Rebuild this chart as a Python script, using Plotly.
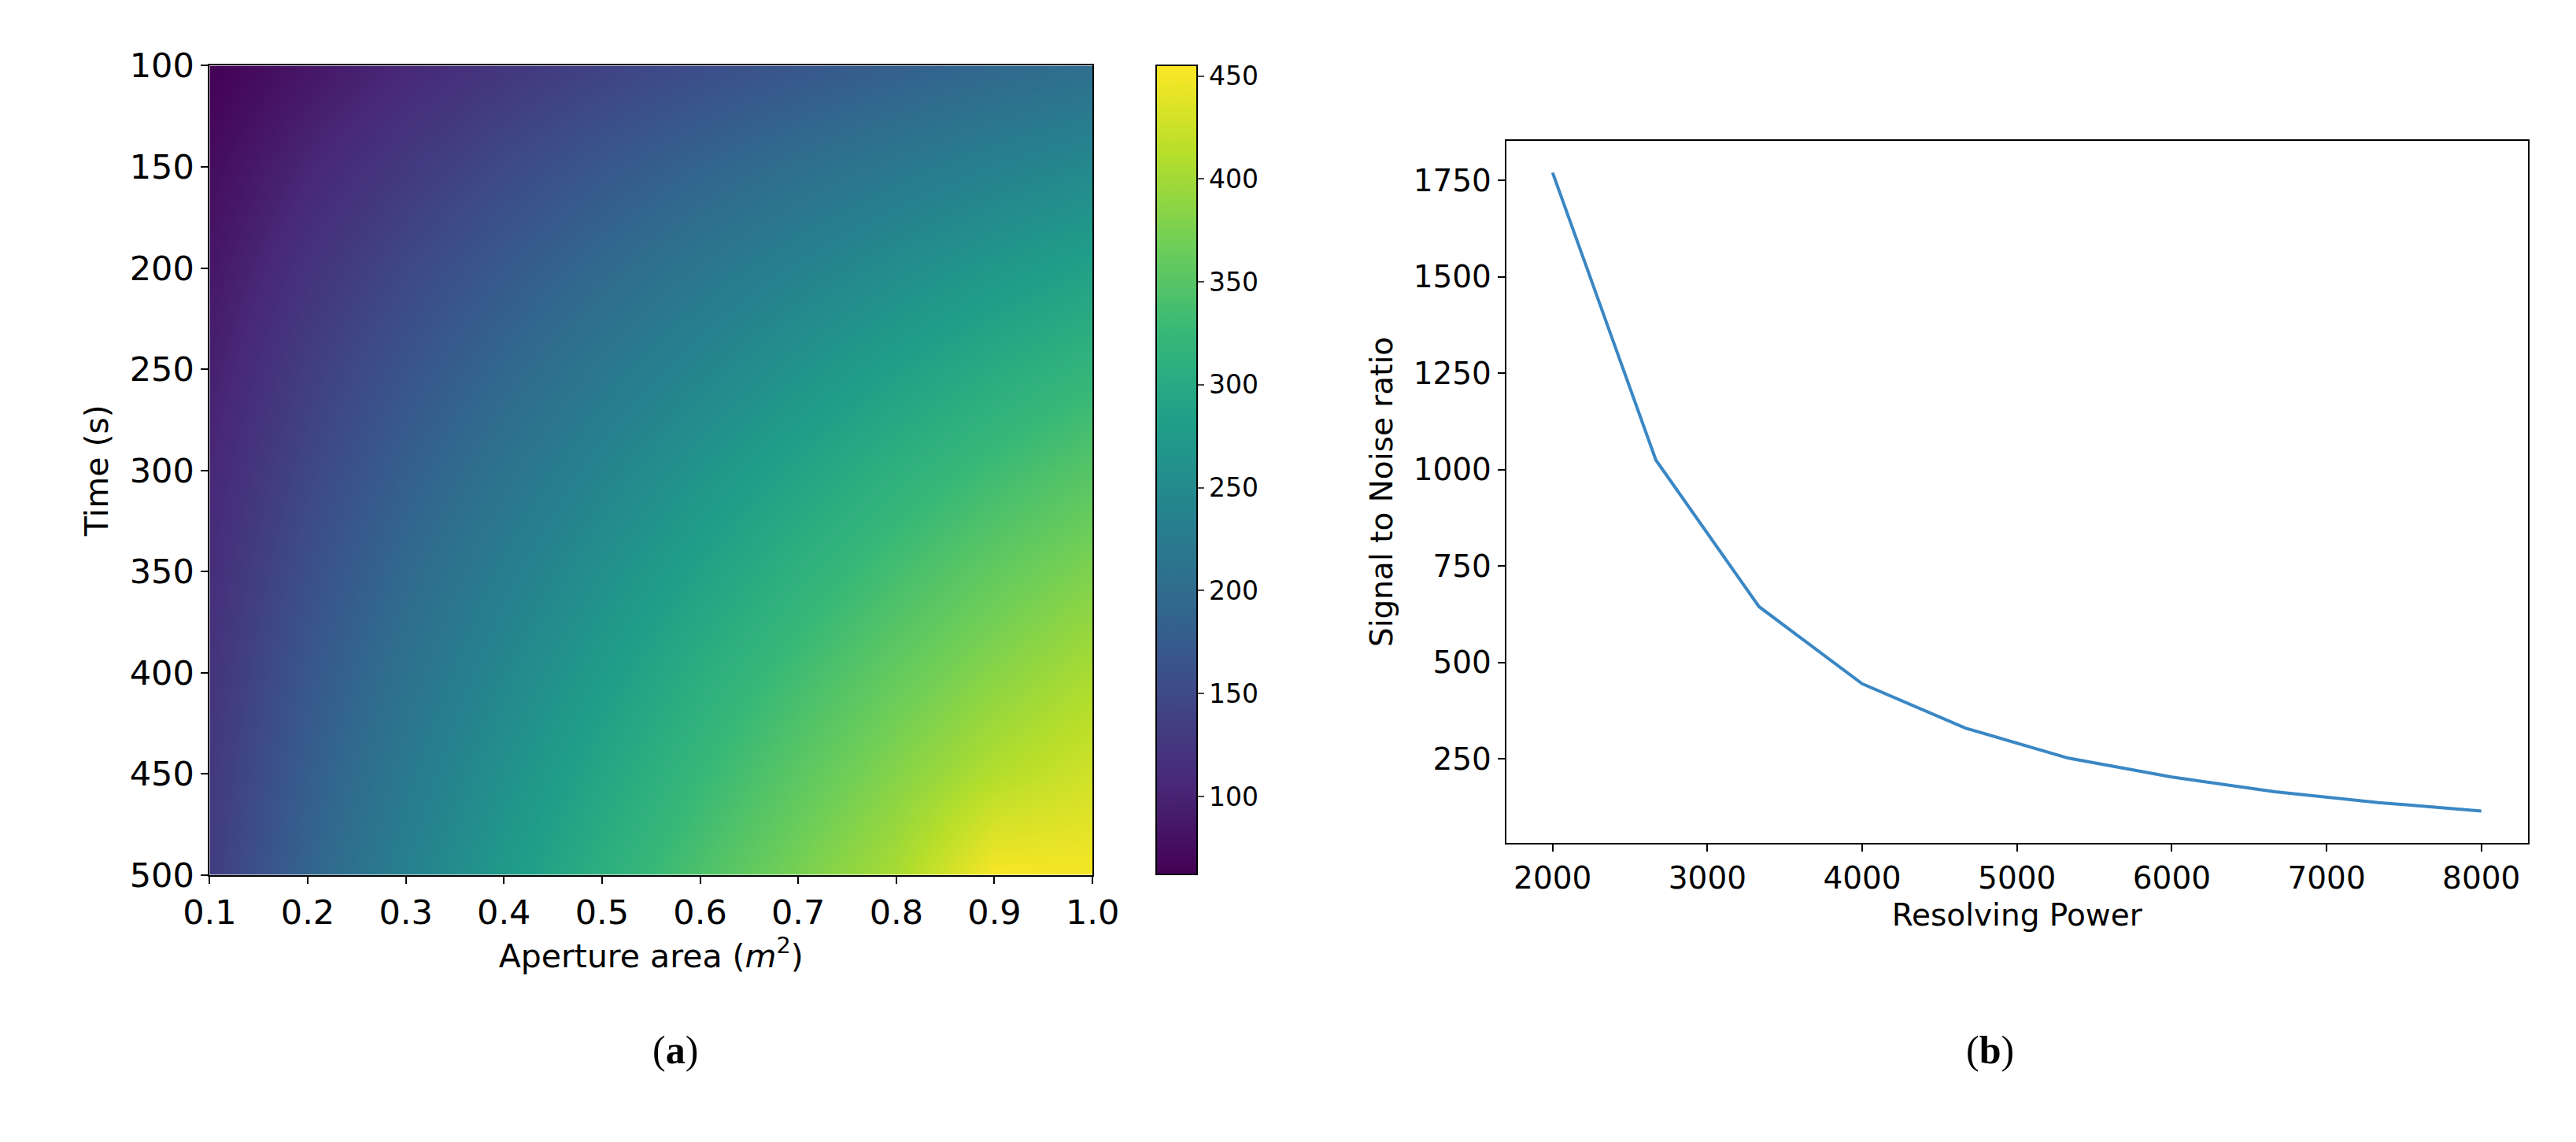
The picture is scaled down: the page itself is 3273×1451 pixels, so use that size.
import plotly.graph_objects as go

# panel (a): SNR over aperture area and exposure time
area = [0.1, 0.2, 0.3, 0.4, 0.5, 0.6, 0.7, 0.8, 0.9, 1.0]
time_s = [100, 150, 200, 250, 300, 350, 400, 450, 500]
snr_grid = [
    [62, 85, 106, 124, 140, 155, 168, 181, 193, 204],
    [75, 104, 128, 150, 170, 188, 205, 220, 235, 248],
    [86, 120, 148, 173, 196, 217, 236, 254, 271, 286],
    [96, 134, 165, 193, 219, 242, 264, 284, 303, 320],
    [105, 146, 181, 212, 240, 266, 290, 312, 332, 350],
    [113, 158, 196, 229, 259, 287, 313, 337, 359, 378],
    [120, 169, 209, 245, 277, 307, 334, 360, 384, 404],
    [127, 179, 222, 260, 294, 325, 354, 382, 410, 428],
    [133, 188, 234, 274, 310, 343, 374, 404, 452, 450],
]

# panel (b): SNR vs resolving power
res_power = [2000, 2667, 3333, 4000, 4667, 5333, 6000, 6667, 7333, 8000]
snr_line = [1770, 1025, 645, 445, 330, 252, 203, 165, 137, 115]

font = 'DejaVu Sans'
fig = go.Figure()

fig.add_trace(go.Heatmap(
    x=area, y=time_s, z=snr_grid, colorscale='Viridis', zsmooth='best',
    zmin=62, zmax=455, xaxis='x', yaxis='y',
    colorbar=dict(x=0.442, xanchor='left', y=0.964, yanchor='top', len=0.734,
                  ypad=0, thickness=52, outlinewidth=2, outlinecolor='black',
                  ticks='outside', ticklen=8, tickwidth=2,
                  tickvals=[100, 150, 200, 250, 300, 350, 400, 450],
                  tickfont=dict(family=font, size=33, color='black'))))

fig.add_trace(go.Scatter(x=res_power, y=snr_line, mode='lines',
                         line=dict(color='#3a87c4', width=4),
                         xaxis='x2', yaxis='y2', showlegend=False))

axis_style = dict(showline=True, mirror=True, linecolor='black', linewidth=2,
                  ticks='outside', ticklen=9, tickwidth=2, tickcolor='black',
                  showgrid=False, zeroline=False)

fig.update_layout(
    width=3273, height=1451, margin=dict(l=0, r=0, t=0, b=0),
    paper_bgcolor='white', plot_bgcolor='white', font=dict(family=font, color='black'),
    xaxis=dict(domain=[0.070, 0.420], range=[0.1, 1.0], tickvals=area,
               tickformat='.1f', tickfont=dict(size=43), anchor='y',
               title=dict(text='Aperture area (<i>m</i><sup>2</sup>)', font=dict(size=41), standoff=12),
               **axis_style),
    yaxis=dict(domain=[0.230, 0.964], range=[500, 100], tickvals=time_s,
               tickfont=dict(size=43), anchor='x',
               title=dict(text='Time (s)', font=dict(size=41), standoff=14), **axis_style),
    xaxis2=dict(domain=[0.584, 0.989], range=[1700, 8300],
                tickvals=[2000, 3000, 4000, 5000, 6000, 7000, 8000],
                tickfont=dict(size=39), anchor='y2',
                title=dict(text='Resolving Power', font=dict(size=39), standoff=12),
                **axis_style),
    yaxis2=dict(domain=[0.259, 0.896], range=[32, 1853],
                tickvals=[250, 500, 750, 1000, 1250, 1500, 1750],
                tickfont=dict(size=39), anchor='x2',
                title=dict(text='Signal to Noise ratio', font=dict(size=39), standoff=14),
                **axis_style),
    annotations=[
        dict(text='(<b>a</b>)', x=0.245, y=0.05, xref='paper', yref='paper',
             showarrow=False, font=dict(family='Liberation Serif', size=50)),
        dict(text='(<b>b</b>)', x=0.786, y=0.05, xref='paper', yref='paper',
             showarrow=False, font=dict(family='Liberation Serif', size=50)),
    ],
)

fig.write_html("out.html")
